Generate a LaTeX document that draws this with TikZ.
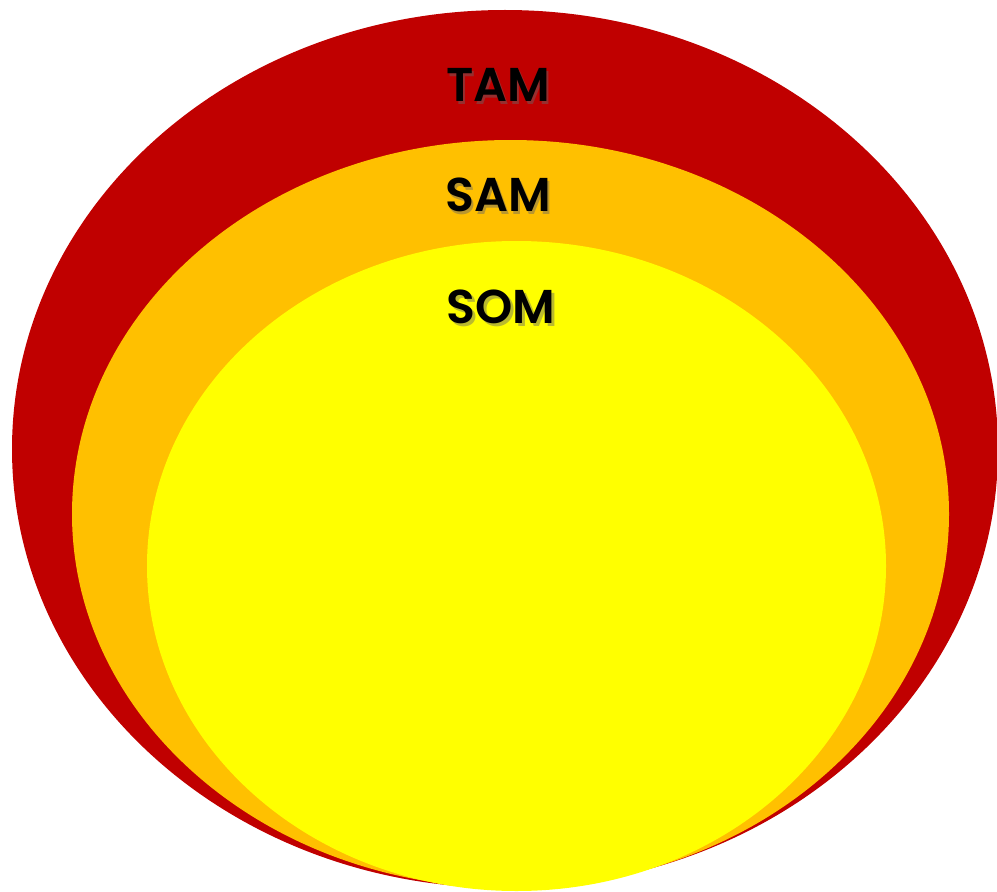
\documentclass[tikz,border=0pt]{standalone}
\usepackage{fontspec}
\setmainfont{Poppins}
\newfontfamily\marketfont{Poppins SemiBold}
\definecolor{tamred}{HTML}{C00000}
\definecolor{samorange}{HTML}{FFC000}
\definecolor{somyellow}{HTML}{FFFF00}
\tikzset{
  marketlabel/.style={font=\marketfont\fontsize{27}{30}\selectfont, text=black, inner sep=0pt},
  labelshadow/.style={marketlabel, text=black!60, opacity=0.45}
}
\begin{document}
\begin{tikzpicture}[x=0.02cm,y=-0.02cm]
        \useasboundingbox (0,0) rectangle (997,892);
        \fill[tamred] (505,449) ellipse (493 and 439);
        \fill[samorange] (510.5,514) ellipse (438.5 and 374);
        \fill[somyellow] (516.5,566) ellipse (369.5 and 325);
        \node[labelshadow] at (500.5,87.5) {TAM};
        \node[labelshadow] at (500.5,197.5) {SAM};
        \node[labelshadow] at (503.5,309.5) {SOM};
        \node[marketlabel] (tam) at (498,85) {TAM};
        \node[marketlabel] (sam) at (498,195) {SAM};
        \node[marketlabel] (som) at (501,307) {SOM};
        %\draw[thick] (12,449) -- (997,449);
    \end{tikzpicture}
\end{document}
